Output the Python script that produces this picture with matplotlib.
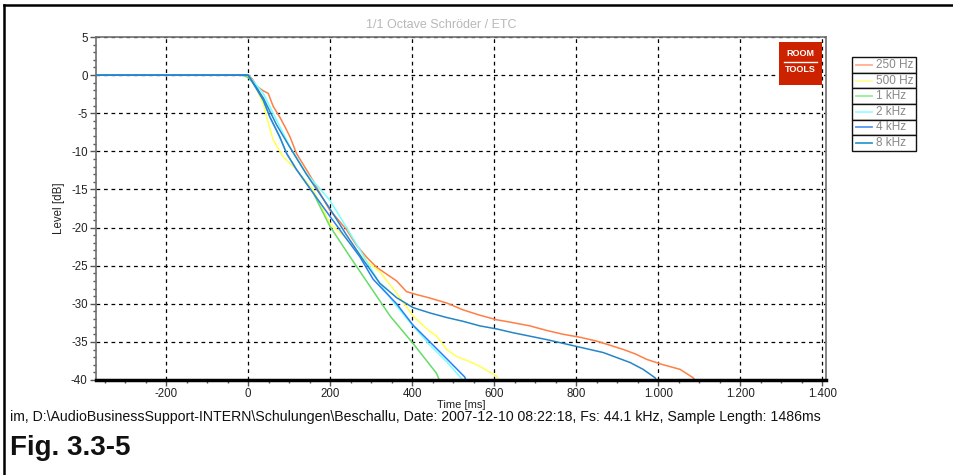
import matplotlib
matplotlib.use("Agg")
import matplotlib.pyplot as plt
from matplotlib.lines import Line2D
from matplotlib.patches import Rectangle
from matplotlib.ticker import MultipleLocator, FixedLocator

plt.rcParams['font.family'] = ['Liberation Sans', 'DejaVu Sans']

# ---------------- data ----------------
series_names = ["250 Hz", "500 Hz", "1 kHz", "2 kHz", "4 kHz", "8 kHz"]
line_colors = ["#FF7F45", "#FFFF55", "#66DD66", "#77FFFF", "#2A7FF5", "#2585C8"]
legend_colors = ["#FFB090", "#FFFF99", "#99EE99", "#99FFFF", "#5599EE", "#3399CC"]

t_250 = [-371, 0, 10, 20, 35, 49, 61, 77, 90, 102, 118, 142, 160, 175, 199, 220, 240, 264, 289,
         313, 340, 362, 386, 411, 440, 484, 524, 565, 606, 638, 687, 728, 768, 810, 850, 880,
         915, 945, 972, 1012, 1053, 1085, 1095]
db_250 = [0, 0, -0.5, -1.4, -2.0, -2.4, -4.1, -5.5, -6.8, -8.1, -10.3, -12.4, -14.0, -15.5, -17.7,
          -19.0, -20.3, -22.3, -23.9, -25.2, -26.2, -27.0, -28.4, -28.8, -29.2, -29.9, -30.8,
          -31.5, -32.1, -32.4, -32.9, -33.5, -34.0, -34.4, -34.9, -35.4, -36.0, -36.6, -37.3,
          -38.0, -38.6, -39.7, -40.5]

t_500 = [-371, 0, 20, 37, 49, 61, 85, 118, 159, 199, 240, 280, 321, 362, 402, 440, 459, 484,
         508, 540, 565, 606, 615]
db_500 = [0, 0, -1.8, -3.8, -6.3, -8.5, -10.7, -12.4, -15.1, -19.4, -21.5, -24.0, -25.8, -28.6,
          -31.6, -33.5, -34.2, -36.0, -36.9, -37.6, -38.2, -39.5, -40.5]

t_1k = [-371, -15, 0, 20, 37, 53, 77, 94, 118, 159, 199, 248, 297, 346, 402, 459, 470]
db_1k = [0, 0, -0.3, -1.5, -3.3, -5.5, -8.1, -10.3, -12.4, -15.5, -19.8, -23.8, -27.7, -31.6,
         -35.2, -39.1, -40.5]

t_2k = [-371, 0, 37, 69, 102, 142, 199, 240, 280, 320, 362, 402, 443, 484, 520, 526]
db_2k = [0, 0, -2.4, -5.9, -9.4, -12.9, -16.4, -20.0, -23.6, -27.3, -30.3, -32.9, -35.4,
         -37.6, -39.8, -40.5]

t_4k = [-371, 0, 37, 53, 77, 94, 118, 159, 199, 240, 272, 305, 321, 362, 402, 443, 484, 528, 535]
db_4k = [0, 0, -3.3, -5.5, -8.1, -10.3, -12.4, -15.5, -18.5, -21.5, -23.8, -26.8, -27.7, -30.0,
         -32.8, -35.0, -37.2, -39.6, -40.5]

t_8k = [-371, 0, 37, 69, 102, 142, 199, 240, 280, 321, 362, 402, 443, 484, 524, 565, 606, 646,
        728, 801, 866, 931, 963, 992, 1000]
db_8k = [0, 0, -3.0, -6.5, -9.5, -13.0, -17.5, -21.0, -24.2, -27.3, -29.2, -30.5, -31.2, -31.8,
         -32.3, -32.9, -33.3, -33.8, -34.7, -35.6, -36.4, -37.7, -38.6, -39.7, -40.5]

series_t = [t_250, t_500, t_1k, t_2k, t_4k, t_8k]
series_db = [db_250, db_500, db_1k, db_2k, db_4k, db_8k]

xticks = [-200, 0, 200, 400, 600, 800, 1000, 1200, 1400]
xtick_labels = ["-200", "0", "200", "400", "600", "800", "1.000", "1.200", "1.400"]
yticks = [5, 0, -5, -10, -15, -20, -25, -30, -35, -40]
ytick_labels = ["5", "0", "-5", "-10", "-15", "-20", "-25", "-30", "-35", "-40"]

title_text = "1/1 Octave Schröder / ETC"
footer_text = ("im, D:\\AudioBusinessSupport-INTERN\\Schulungen\\Beschallu, Date: 2007-12-10 "
               "08:22:18, Fs: 44.1 kHz, Sample Length: 1486ms")
fig_label = "Fig. 3.3-5"

# ---------------- figure ----------------
W, H = 954, 475
fig = plt.figure(figsize=(W / 100, H / 100), dpi=100)
fig.patch.set_facecolor("white")


def fx(px):
    return px / W


def fy(py):
    return 1 - py / H


ax = fig.add_axes([fx(96), fy(380), 730 / W, 343 / H])
for t, d, c in zip(series_t, series_db, line_colors):
    ax.plot(t, d, color=c, lw=1.1, solid_joinstyle="miter")

ax.set_xlim(-371, 1409)
ax.set_ylim(-40, 5)
ax.xaxis.set_major_locator(FixedLocator(xticks))
ax.set_xticklabels(xtick_labels)
ax.yaxis.set_major_locator(FixedLocator(yticks))
ax.set_yticklabels(ytick_labels)
ax.xaxis.set_minor_locator(MultipleLocator(50))
ax.yaxis.set_minor_locator(MultipleLocator(1))
ax.tick_params(axis="both", which="major", labelsize=8.3, length=4, width=1,
               color="#555555", labelcolor="#222222", pad=2)
ax.tick_params(axis="both", which="minor", length=2.5, width=1, color="#555555")
ax.grid(True, which="major", color="black", linestyle=(0, (3, 3)), linewidth=0.9)
ax.set_axisbelow(True)
for s in ["left", "top", "right"]:
    ax.spines[s].set_color("#707070")
    ax.spines[s].set_linewidth(1.2)
ax.spines["bottom"].set_color("black")
ax.spines["bottom"].set_linewidth(2.5)
ax.set_xlabel("Time [ms]", fontsize=8, color="#222222", labelpad=0)
ax.set_ylabel("Level [dB]", fontsize=8.3, color="#222222", labelpad=4)

# title
fig.text(fx(441), fy(25), title_text, ha="center", va="center", fontsize=9, color="#B8B8B8")

# logo
fig.add_artist(Rectangle((fx(779), fy(85)), 43 / W, 43 / H, transform=fig.transFigure,
                         facecolor="#CC2200", edgecolor="none"))
fig.text(fx(800.5), fy(54), "ROOM", ha="center", va="center", fontsize=6.5,
         fontweight="bold", color="white")
fig.add_artist(Line2D([fx(784), fx(817)], [fy(61.5), fy(61.5)], transform=fig.transFigure,
                      color="white", lw=1))
fig.text(fx(800.5), fy(70), "TOOLS", ha="center", va="center", fontsize=6.5,
         fontweight="bold", color="white")

# legend
lx0, lx1, ly0 = 852, 916, 57.3
row_h = 15.55
for i, (name, col) in enumerate(zip(series_names, legend_colors)):
    top = ly0 + i * row_h
    fig.add_artist(Rectangle((fx(lx0), fy(top + row_h)), (lx1 - lx0) / W, row_h / H,
                             transform=fig.transFigure, facecolor="white",
                             edgecolor="#111111", lw=1))
    yc = top + row_h / 2
    fig.add_artist(Line2D([fx(856), fx(872)], [fy(yc), fy(yc)], transform=fig.transFigure,
                          color=col, lw=1.3))
    fig.text(fx(876), fy(yc), name, ha="left", va="center", fontsize=8.5, color="#888888")

# footer
fig.text(fx(10), fy(417), footer_text, ha="left", va="center", fontsize=10.2, color="#111111")
fig.text(fx(10), fy(448), fig_label, ha="left", va="center", fontsize=20, fontweight="bold",
         color="#111111")

# outer frame (top + left)
fig.add_artist(Line2D([fx(4), fx(954)], [fy(5), fy(5)], transform=fig.transFigure,
                      color="black", lw=1.8))
fig.add_artist(Line2D([fx(4), fx(4)], [fy(5), fy(475)], transform=fig.transFigure,
                      color="black", lw=1.8))

fig.savefig("out.png", dpi=100)
